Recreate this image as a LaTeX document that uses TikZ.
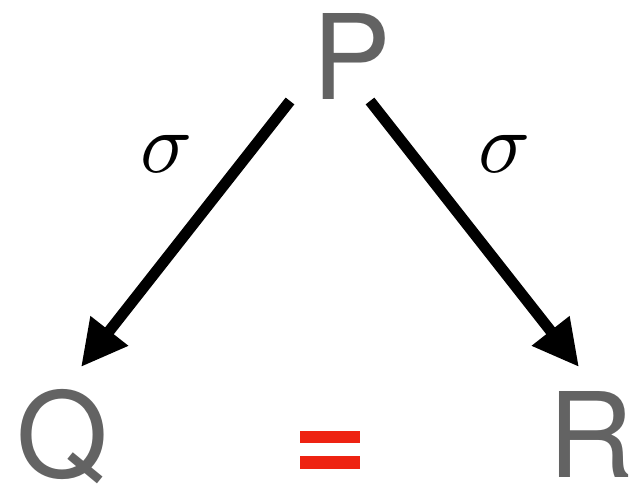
\documentclass[tikz,border=0pt]{standalone}
\usepackage{fontspec}
\setmainfont{TeX Gyre Heros}
\usepackage{graphicx}
\usetikzlibrary{arrows.meta}
\definecolor{lettergray}{RGB}{99,99,99}
\definecolor{eqred}{RGB}{238,34,17}
\begin{document}
\begin{tikzpicture}[x=1pt,y=-1pt,
  letter/.style={inner sep=0pt,anchor=base,text depth=0pt,text=lettergray,font=\fontsize{118}{118}\selectfont},
  maplabel/.style={inner sep=0pt},
  maparrow/.style={line width=11pt,-{Triangle[length=46pt,width=45pt]}},
  eqbar/.style={fill=eqred,draw=none}]
\useasboundingbox (0,0) rectangle (631,485);
\node[letter] (P) at (351.5,99) {P};
\node[letter] (Q) at (62,477) {Q};
\node[letter] (R) at (591,477) {R};
\coordinate (ps1) at (290,101);
\coordinate (qtip) at (81,367);
\coordinate (ps2) at (370,101);
\coordinate (rtip) at (579,367);
\draw[maparrow] (ps1) -- (qtip);
\draw[maparrow] (ps2) -- (rtip);
\node[maplabel] (s1) at (167,154) {\scalebox{8.6}{$\sigma$}};
\node[maplabel] (s2) at (505,154) {\scalebox{8.6}{$\sigma$}};
\fill[eqbar] (300,431) rectangle (360,443);
\fill[eqbar] (300,456) rectangle (360,469);
\end{tikzpicture}
\end{document}
